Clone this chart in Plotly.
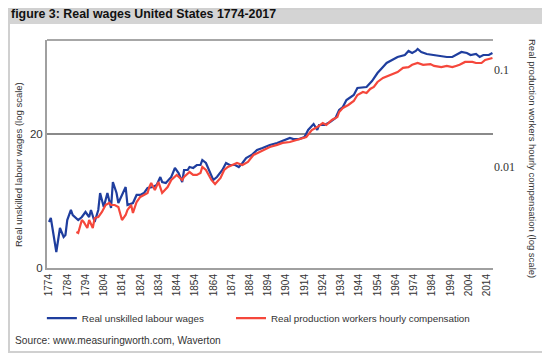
import plotly.graph_objects as go

# Real unskilled labour wages (left axis units)
blue_years = [1774, 1775, 1778, 1780, 1782, 1783, 1784, 1786, 1787, 1789, 1790, 1792, 1794, 1796, 1797,
              1799, 1801, 1802, 1804, 1806, 1808, 1809, 1811, 1812, 1816, 1817, 1820, 1822, 1824, 1826,
              1828, 1831, 1833, 1835, 1836, 1838, 1841, 1843, 1845, 1847, 1848, 1850, 1851, 1853, 1855,
              1857, 1858, 1860, 1862, 1864, 1866, 1869, 1871, 1873, 1876, 1878, 1880, 1882, 1885, 1888,
              1891, 1895, 1899, 1902, 1906, 1908, 1911, 1914, 1916, 1919, 1921, 1922, 1925, 1928, 1931,
              1933, 1935, 1937, 1941, 1943, 1946, 1948, 1951, 1954, 1957, 1959, 1962, 1965, 1969, 1971,
              1973, 1975, 1976, 1978, 1981, 1985, 1988, 1992, 1995, 1998, 2000, 2003, 2005, 2008, 2010,
              2012, 2015, 2017]
blue_values = [6.87, 7.46, 2.39, 5.97, 4.63, 4.93, 7.16, 8.66, 7.91, 7.46, 7.16, 7.61, 8.36, 7.61, 8.66,
               6.87, 8.66, 11.19, 9.10, 11.19, 8.96, 12.84, 11.19, 9.70, 12.09, 9.40, 9.70, 10.90, 10.90, 11.19,
               11.94, 12.09, 12.40, 13.58, 12.84, 12.69, 13.58, 14.93, 14.18, 12.84, 14.63, 14.63, 15.07, 14.93, 15.37,
               15.37, 16.12, 15.67, 14.33, 13.13, 13.58, 14.63, 15.67, 15.37, 15.37, 15.07, 15.67, 16.42, 16.87, 17.61,
               17.91, 18.36, 18.66, 18.96, 19.40, 19.25, 19.25, 19.55, 20.60, 21.49, 20.60, 21.34, 21.34, 21.79, 22.39,
               23.58, 24.03, 25.07, 25.82, 26.87, 27.01, 27.01, 27.90, 29.10, 30.00, 30.60, 31.04, 31.49, 31.79, 32.39,
               32.09, 32.39, 32.69, 32.24, 31.94, 31.79, 31.64, 31.49, 31.49, 31.94, 32.24, 32.09, 31.79, 31.94, 31.49,
               31.79, 31.79, 32.09]

# Real production workers hourly compensation (right axis, log)
red_years = [1789, 1790, 1792, 1793, 1795, 1796, 1798, 1799, 1801, 1803, 1805, 1807, 1808, 1810, 1812,
             1814, 1816, 1817, 1819, 1820, 1822, 1824, 1826, 1828, 1829, 1830, 1832, 1834, 1836, 1839,
             1841, 1844, 1847, 1848, 1851, 1853, 1855, 1857, 1858, 1860, 1863, 1865, 1868, 1870, 1872,
             1875, 1877, 1880, 1883, 1886, 1888, 1891, 1895, 1899, 1902, 1906, 1910, 1913, 1915, 1918,
             1921, 1924, 1926, 1929, 1932, 1933, 1935, 1938, 1941, 1943, 1946, 1948, 1950, 1952, 1954,
             1957, 1961, 1965, 1968, 1971, 1973, 1976, 1979, 1983, 1985, 1989, 1992, 1995, 1997, 1999,
             2002, 2006, 2008, 2011, 2013, 2016, 2017]
red_values = [0.00214, 0.00209, 0.00284, 0.00271, 0.00235, 0.00284, 0.00235, 0.00298, 0.00305, 0.00344,
              0.00406, 0.00426, 0.00406, 0.00406, 0.00387, 0.00284, 0.00320, 0.00361, 0.00406, 0.00336,
              0.00436, 0.00491, 0.00514, 0.00540, 0.00622, 0.00684, 0.00579, 0.00700, 0.00540, 0.00622,
              0.00735, 0.00828, 0.00735, 0.00789, 0.00887, 0.00828, 0.00828, 0.00867, 0.0100, 0.00931,
              0.00735, 0.00668, 0.00771, 0.00931, 0.0100, 0.0105, 0.0110, 0.0105, 0.0113, 0.0133,
              0.0139, 0.0150, 0.0161, 0.0169, 0.0177, 0.0181, 0.0190, 0.0199, 0.0204, 0.0240,
              0.0258, 0.0284, 0.0271, 0.0305, 0.0327, 0.0369, 0.0406, 0.0436, 0.0479, 0.0552,
              0.0593, 0.0579, 0.0637, 0.0668, 0.0752, 0.0828, 0.0887, 0.0953, 0.105, 0.107,
              0.113, 0.118, 0.113, 0.115, 0.110, 0.107, 0.110, 0.107, 0.110, 0.113,
              0.121, 0.121, 0.118, 0.118, 0.127, 0.133, 0.133]

x_ticks = list(range(1774, 2015, 10))
left_tick_vals = [0, 20]
left_tick_text = ["0", "20"]
right_tick_vals = [0.01, 0.1]
right_tick_text = ["0.01", "0.1"]

SANS = "Liberation Sans, Arial, sans-serif"
LEGEND_FONT = dict(family=SANS, size=9.8, color="#333")

# page has an 8px body margin; figure is sized so the page fits the window
fig = go.Figure()
fig.add_trace(go.Scatter(x=blue_years, y=blue_values, mode="lines",
                         name="Real unskilled labour wages", legend="legend",
                         line=dict(color="#1f3e9e", width=2.2), yaxis="y"))
fig.add_trace(go.Scatter(x=red_years, y=red_values, mode="lines",
                         name="Real production workers hourly compensation", legend="legend2",
                         line=dict(color="#f5473b", width=2.2), yaxis="y2"))

fig.update_layout(
    width=542, height=347,
    margin=dict(l=39, r=57, t=32, b=87, autoexpand=False),
    paper_bgcolor="white", plot_bgcolor="white",
    showlegend=True,
    legend=dict(orientation="h", x=-0.0115, xanchor="left", y=-0.22, yanchor="middle",
                font=LEGEND_FONT, bgcolor="rgba(0,0,0,0)"),
    legend2=dict(orientation="h", x=184/446, xanchor="left", y=-0.22, yanchor="middle",
                 font=LEGEND_FONT, bgcolor="rgba(0,0,0,0)"),
    xaxis=dict(range=[1772.9, 2017.3], tickmode="array", tickvals=x_ticks,
               ticktext=[str(v) for v in x_ticks], tickangle=-90, automargin=False,
               showgrid=False, zeroline=False, showline=True, linecolor="#a0a0a0", linewidth=2,
               ticks="", tickfont=dict(family=SANS, size=10, color="#333")),
    yaxis=dict(range=[0, 34.03], tickmode="array", tickvals=left_tick_vals, ticktext=left_tick_text,
               showgrid=True, gridcolor="#8a8a8a", gridwidth=1.5, zeroline=False, automargin=False,
               showline=True, linecolor="#a0a0a0", linewidth=2, ticks="",
               tickfont=dict(family=SANS, size=11.5, color="#333")),
    yaxis2=dict(type="log", range=[-3.041, -0.691], overlaying="y", side="right",
                tickmode="array", tickvals=right_tick_vals, ticktext=right_tick_text, automargin=False,
                showgrid=False, zeroline=False, showline=False, ticks="",
                tickfont=dict(family="Liberation Serif, serif", size=12, color="#333")),
    shapes=[
        dict(type="rect", xref="paper", yref="paper", x0=-39/446, x1=500/446,
             y0=(268-24)/228, y1=(268-8)/228, line=dict(width=0),
             fillcolor="#d4d4d4", layer="below"),
        dict(type="rect", xref="paper", yref="paper", x0=-38/446, x1=501/446,
             y0=(268-352)/228, y1=(268-9)/228, line=dict(color="#d0d0d0", width=2),
             fillcolor="rgba(0,0,0,0)", layer="below"),
        dict(type="line", xref="paper", yref="paper", x0=0, x1=1, y0=1, y1=1,
             line=dict(color="#8a8a8a", width=1.5)),
    ],
    annotations=[
        dict(text="<b>figure 3: Real wages United States 1774-2017</b>", xref="paper", yref="paper",
             x=-38/446, y=(268-14)/228, xanchor="left", yanchor="middle", showarrow=False,
             font=dict(family=SANS, size=12.4, color="#111")),
        dict(text="Real unskilled labour wages (log scale)", xref="paper", yref="paper",
             x=-29/446, y=(268-165)/228, xanchor="center", yanchor="middle", textangle=-90,
             showarrow=False, font=dict(family=SANS, size=9.5, color="#333")),
        dict(text="Real production workers hourly compensation (log scale)", xref="paper", yref="paper",
             x=(533-47)/446, y=(268-158)/228, xanchor="center", yanchor="middle", textangle=90,
             showarrow=False, font=dict(family=SANS, size=9.5, color="#333")),
        dict(text="Source: www.measuringworth.com, Waverton", xref="paper", yref="paper",
             x=-34/446, y=(268-340)/228, xanchor="left", yanchor="middle", showarrow=False,
             font=dict(family=SANS, size=10.2, color="#333")),
    ],
)

fig.write_html("out.html")
